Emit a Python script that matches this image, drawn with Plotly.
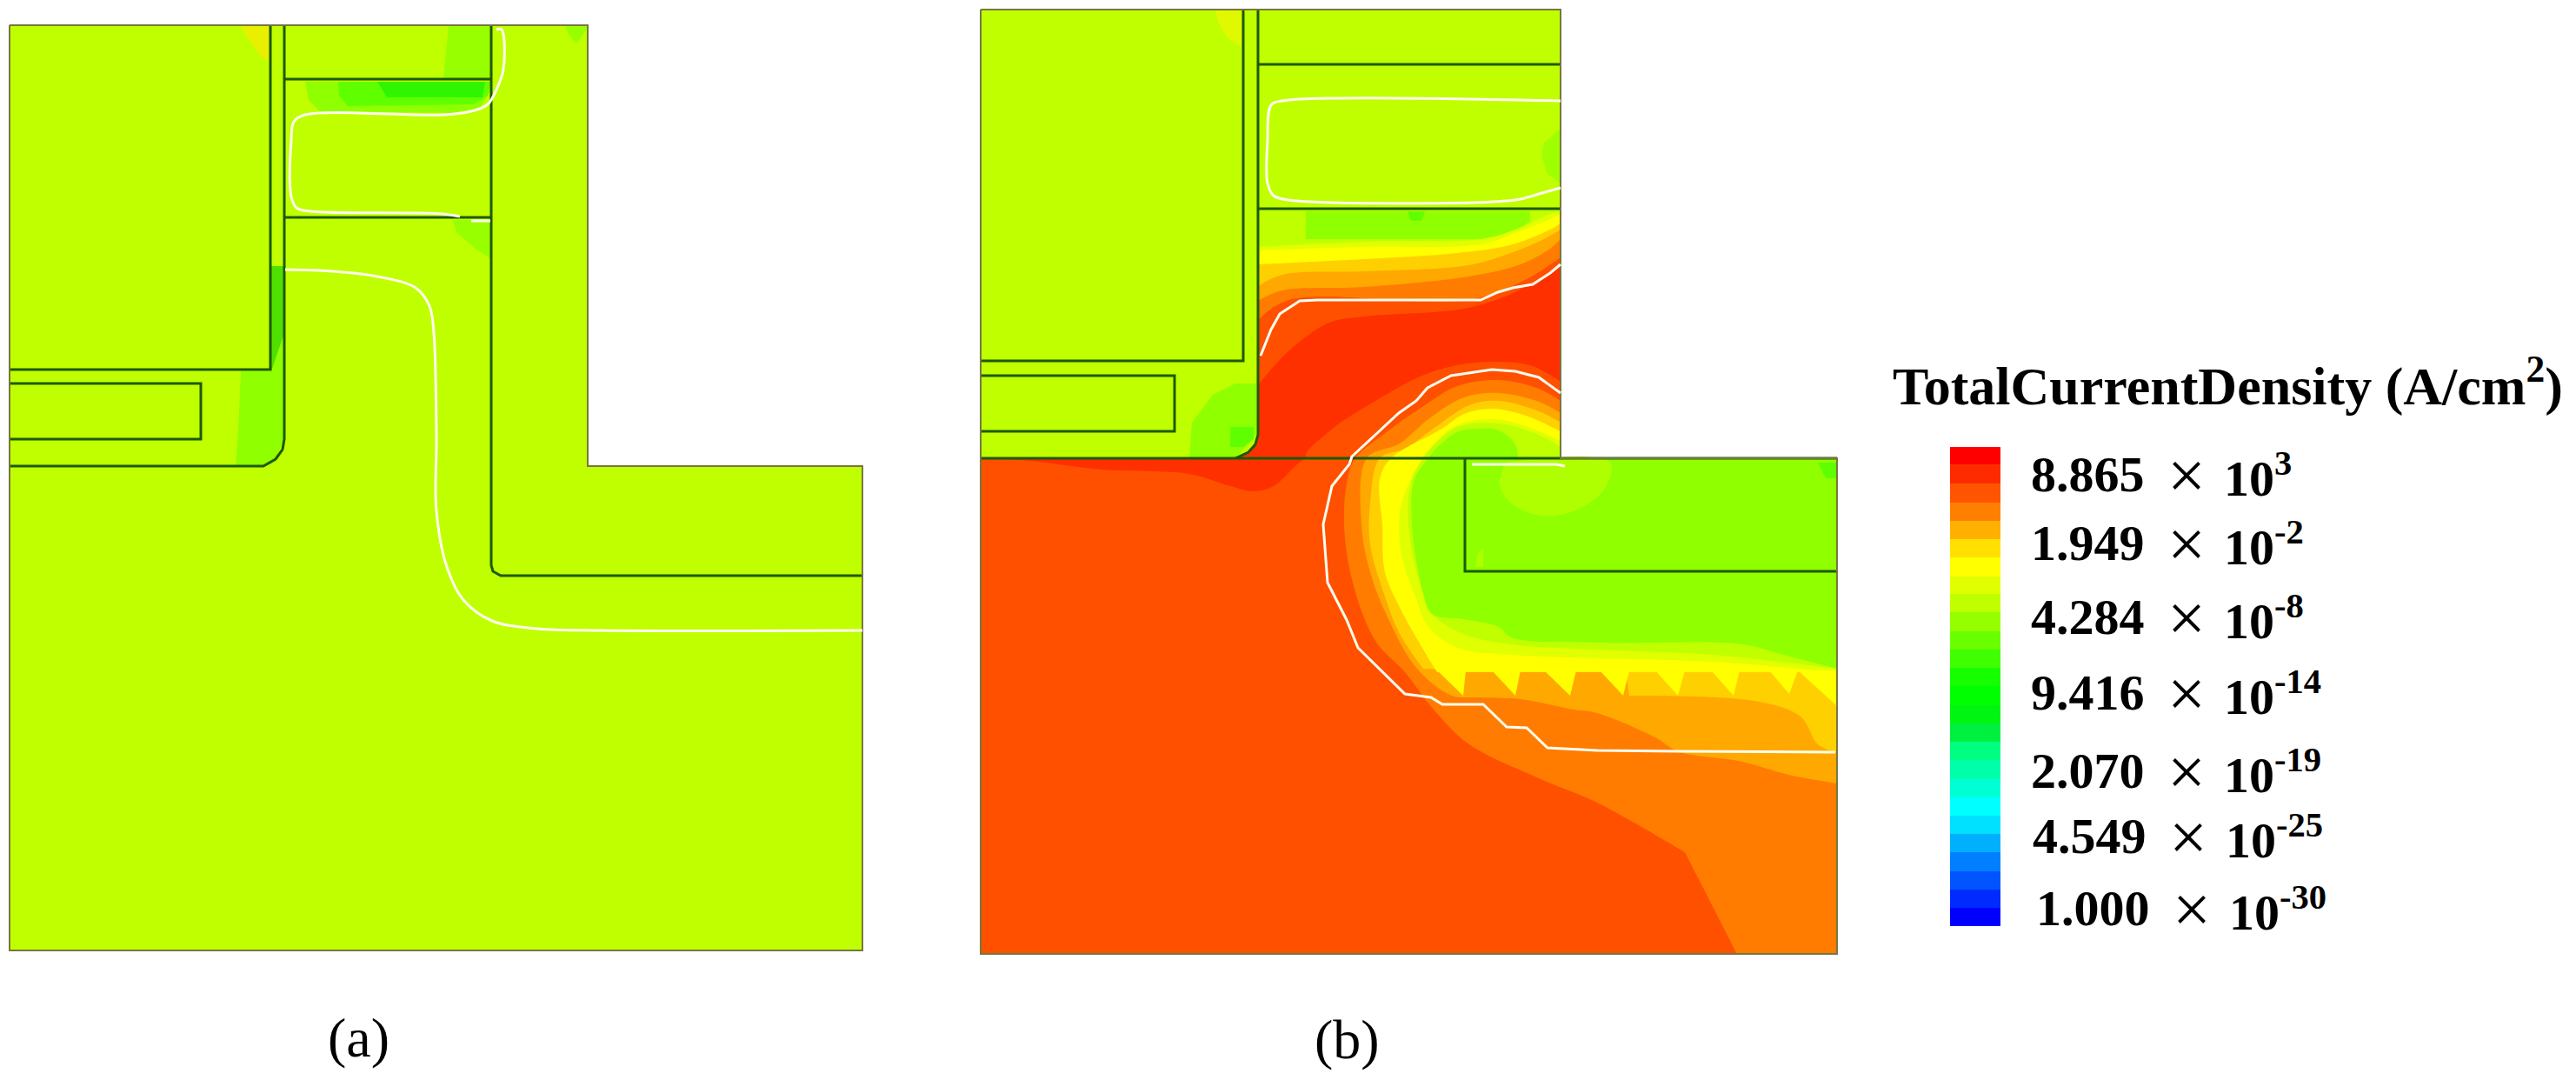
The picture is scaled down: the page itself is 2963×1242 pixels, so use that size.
import plotly.graph_objects as go

# Everything in its own pixel frame (x right, y down)
CHARTREUSE = '#C0FF00'

# --- panel (a) ---
a_outline = [(11, 29), (676, 29), (676, 536), (992, 536), (992, 1093), (11, 1093), (11, 29)]
a_top_green = [(516, 29), (564, 29), (564, 90), (510, 90), (513, 60)]
a_under_light = [(351, 94), (564, 94), (564, 105), (552, 124), (520, 130), (368, 128), (355, 115)]
a_under_mid = [(389, 94), (564, 94), (561, 110), (545, 120), (400, 122), (390, 110)]
a_under_deep = [(434, 94), (558, 94), (555, 112), (445, 112)]
a_gate_green = [(520, 253), (564, 253), (564, 297), (548, 287), (526, 268)]
a_corner_green = [(650, 29), (675, 29), (675, 34), (663, 50), (654, 40)]
a_top_yellow = [(277, 29), (311, 29), (311, 73), (300, 65), (284, 42)]
a_strip_green = [(311, 306), (327, 306), (327, 425), (311, 425)]
a_low_green = [(277, 427), (312, 427), (327, 383), (327, 505), (317, 528), (300, 536), (271, 536), (274, 497)]
a_line_1 = [(311, 29), (311, 425), (11, 425)]
a_line_2 = [(327, 29), (327, 505), (325, 517), (317, 528), (303, 536), (11, 536)]
a_line_3 = [(11, 441), (231, 441), (231, 505), (11, 505)]
a_line_4 = [(565, 29), (565, 650), (567, 657), (576, 662), (992, 662)]
a_line_5 = [(327, 91), (565, 91)]
a_line_6 = [(327, 250), (565, 250)]
a_white_1 = [(571, 34), (577, 34), (579, 80), (571, 103), (561, 120), (542, 128), (510, 132), (351, 132),
             (338, 140), (335, 161), (335, 226), (341, 239), (357, 243), (510, 246), (529, 249)]
a_white_2 = [(542, 254), (564, 254)]
a_white_3 = [(328, 310), (383, 312), (434, 318), (478, 331), (494, 352), (499, 383), (502, 500), (502, 588),
             (514, 652), (533, 690), (566, 714), (618, 723), (690, 725), (992, 725)]

# --- panel (b) ---
b_outline = [(1128, 11), (1795, 11), (1795, 527), (2113, 527), (2113, 1097), (1128, 1097), (1128, 11)]
b_lower_box = [(1128, 527), (2113, 527), (2113, 1097), (1128, 1097)]
b_top_yellow = [(1398, 11), (1428, 11), (1428, 54), (1411, 43), (1401, 25)]
b_edge_green = [(1795, 148), (1776, 164), (1773, 179), (1780, 200), (1795, 211)]
b_low_green = [(1368, 527), (1371, 486), (1395, 454), (1421, 441), (1445, 441), (1445, 500), (1421, 527)]
b_low_deep = [(1415, 514), (1415, 491), (1442, 491), (1442, 505), (1430, 514)]
b_gate_green = [(1502, 243), (1760, 243), (1760, 254), (1733, 275), (1502, 275)]
b_gate_spot = [(1619, 243), (1639, 243), (1635, 254), (1623, 254)]

# upper channel bands, top edge of each, left to right
up_e0 = [(1447, 284), (1569, 278), (1703, 275), (1743, 264), (1783, 246), (1795, 243)]
up_ff = [(1447, 288), (1569, 284), (1703, 281), (1743, 268), (1783, 252), (1795, 246)]
up_fd = [(1447, 304), (1569, 298), (1676, 291), (1736, 282), (1783, 264), (1795, 257)]
up_a8 = [(1447, 329), (1475, 316), (1569, 312), (1689, 305), (1743, 289), (1776, 275), (1795, 264)]
up_7c = [(1447, 346), (1475, 334), (1569, 330), (1689, 318), (1749, 304), (1783, 286), (1795, 275)]
up_50 = [(1447, 368), (1482, 345), (1689, 345), (1756, 321), (1795, 296)]
up_30 = [(1447, 443), (1482, 404), (1529, 371), (1569, 364), (1683, 355), (1736, 339), (1776, 318), (1795, 307)]
# corners listed twice stay sharp under the spline
up_close = [(1795, 527), (1795, 527), (1423, 527), (1423, 527), (1436, 520), (1444, 511), (1447, 500), (1447, 500)]

red_patch = [(1150, 527), (1187, 530), (1267, 540), (1368, 545), (1415, 559), (1442, 565), (1465, 559),
             (1492, 534), (1502, 527)]

# nested C-shaped bands around the drain, outer to inner
arch_50 = [(1795, 439), (1763, 421), (1723, 416), (1676, 420), (1636, 432), (1582, 461), (1529, 496), (1502, 527)]
arch_7c = [(1795, 461), (1770, 447), (1724, 437), (1676, 444), (1636, 468), (1596, 496), (1559, 527), (1550, 551),
           (1546, 603), (1556, 670), (1582, 737), (1616, 773), (1649, 816), (1690, 856), (1770, 895), (1837, 923),
           (1938, 980), (1938, 980), (1998, 1097), (1998, 1097), (2113, 1097), (2113, 1097)]
arch_a8 = [(1795, 475), (1770, 462), (1724, 452), (1684, 457), (1643, 482), (1610, 510), (1572, 527), (1566, 603),
           (1576, 658), (1596, 710), (1630, 769), (1670, 800), (1696, 802), (1749, 804), (1810, 816), (1837, 820),
           (1904, 848), (1930, 864), (2004, 876), (2057, 891), (2113, 901)]
arch_d0 = [(1795, 486), (1770, 473), (1724, 461), (1690, 466), (1650, 492), (1616, 516), (1587, 527), (1576, 579),
           (1576, 626), (1593, 686), (1610, 729), (1637, 769), (1637, 769), (1686, 771), (1686, 771), (1870, 771),
           (1870, 771), (1874, 800), (1874, 800), (2018, 806), (2071, 824), (2091, 856), (2113, 866)]
arch_ff = [(1795, 496), (1770, 484), (1749, 476), (1716, 470), (1684, 476), (1657, 494), (1600, 527), (1587, 551),
           (1590, 603), (1593, 658), (1616, 710), (1653, 773), (1653, 773), (2113, 773), (2113, 773)]
teeth_ff = [(1653, 771), (1683, 800), (1686, 771), (1716, 771), (1743, 800), (1749, 771), (1776, 771), (1806, 800),
            (1813, 771), (1840, 771), (1867, 800), (1874, 771), (1904, 771), (1930, 800), (1938, 771), (1968, 771),
            (1994, 800), (2001, 771), (2035, 771), (2058, 798), (2068, 771), (2113, 812), (2113, 771)]
arch_e0 = [(1795, 507), (1749, 488), (1716, 482), (1676, 489), (1650, 510), (1637, 527), (1612, 579), (1612, 638),
           (1628, 686), (1643, 721), (1677, 745), (1738, 753), (1837, 757), (1970, 761), (2113, 773)]
arch_c0 = [(1795, 514), (1770, 500), (1724, 487), (1676, 491), (1647, 514), (1637, 527), (1624, 551), (1620, 603),
           (1634, 674), (1647, 706), (1683, 729), (1738, 741), (1837, 747), (1970, 753), (2113, 769)]
arch_90 = [(1746, 527), (1743, 511), (1724, 495), (1704, 493), (1676, 497), (1650, 518), (1643, 527), (1627, 551),
           (1624, 603), (1637, 682), (1647, 706), (1683, 712), (1724, 721), (1738, 733), (1837, 739), (2004, 741),
           (2051, 753), (2113, 769), (2113, 769), (2113, 527), (2113, 527)]
drain_blob = [(1731, 532), (1852, 532), (1845, 563), (1812, 587), (1771, 593), (1734, 575), (1724, 555)]
drain_corner = [(2091, 532), (2113, 532), (2113, 550), (2100, 550)]
drain_sliver = [(1697, 652), (1700, 636), (1706, 630), (1706, 652)]

b_line_1 = [(1430, 11), (1430, 415), (1128, 415)]
b_line_2 = [(1447, 11), (1447, 500), (1444, 511), (1436, 520), (1421, 527)]
b_line_3 = [(1128, 527), (2113, 527)]
b_line_4 = [(1128, 432), (1351, 432), (1351, 496), (1128, 496)]
b_line_5 = [(1447, 74), (1795, 74)]
b_line_6 = [(1447, 240), (1795, 240)]
b_line_7 = [(1685, 527), (1685, 657), (2113, 657)]
b_white_1 = [(1795, 116), (1475, 116), (1462, 121), (1458, 161), (1458, 211), (1465, 225), (1482, 230), (1743, 230),
             (1770, 223), (1795, 216)]
b_white_2 = [(1450, 409), (1462, 379), (1472, 361), (1495, 346), (1515, 345), (1703, 345), (1723, 336), (1740, 331),
             (1763, 327), (1783, 314), (1795, 304)]
b_white_3 = [(1795, 452), (1770, 434), (1743, 427), (1716, 425), (1669, 432), (1642, 446), (1629, 461), (1609, 475),
             (1582, 500), (1555, 525), (1552, 534), (1532, 559), (1522, 603), (1527, 670), (1549, 713), (1562, 745),
             (1616, 798), (1646, 802), (1659, 810), (1706, 810), (1733, 836), (1756, 837), (1780, 860), (1837, 863),
             (1930, 864), (2111, 865)]
b_white_4 = [(1693, 534), (1790, 534), (1800, 536)]

# --- colour legend ---
band_edges = [514, 534, 556, 578, 599, 620, 641, 663, 683, 704, 726, 747, 768, 789, 811, 832, 853, 874, 896, 917,
              938, 959, 980, 1002, 1023, 1044, 1065]
band_colors = ['#FF0000', '#FF2B00', '#FF5500', '#FF8000', '#FFB000', '#FFE000', '#FFFF00', '#E0FF00', '#C0FF00',
               '#95FF00', '#6AFF00', '#40FF00', '#15FF00', '#00FF00', '#00F510', '#00F040', '#00FF80', '#00FFAA',
               '#00FFD5', '#00FFFF', '#00E0FF', '#00B0FF', '#0080FF', '#0055FF', '#002BFF', '#0000FF']
mantissas = ['8.865', '1.949', '4.284', '9.416', '2.070', '4.549', '1.000']
exponents = ['3', '-2', '-8', '-14', '-19', '-25', '-30']
label_baselines = [566, 645, 730, 817, 907, 982, 1065]
label_lefts = [2337, 2337, 2337, 2337, 2337, 2339, 2343]


def add_region(fig, points, color, smooth=False):
    fig.add_trace(go.Scatter(
        x=[p[0] for p in points], y=[p[1] for p in points],
        mode='lines', fill='toself', fillcolor=color,
        line=dict(width=0, color=color, shape='spline' if smooth else 'linear', simplify=False),
        hoverinfo='skip', showlegend=False,
    ))


def add_path(fig, points, color, width, smooth=False):
    fig.add_trace(go.Scatter(
        x=[p[0] for p in points], y=[p[1] for p in points],
        mode='lines', line=dict(color=color, width=width, shape='spline' if smooth else 'linear'),
        hoverinfo='skip', showlegend=False,
    ))


fig = go.Figure()

# Legend bar
fig.add_trace(go.Heatmap(
    x=[2243, 2301], y=band_edges,
    z=[[i] for i in range(len(band_colors))],
    zmin=0, zmax=len(band_colors) - 1,
    colorscale=[[i / (len(band_colors) - 1), c] for i, c in enumerate(band_colors)],
    showscale=False, hoverinfo='skip',
))

# Panel (a) fields
add_region(fig, a_outline, CHARTREUSE)
for pts, col in [(a_top_green, '#98FF00'), (a_under_light, '#90FF00'), (a_under_mid, '#60FF00'),
                 (a_under_deep, '#30F500'), (a_gate_green, '#98FF00'), (a_corner_green, '#98FF00'),
                 (a_top_yellow, '#E8F000'), (a_strip_green, '#50E000'), (a_low_green, '#90FF00')]:
    add_region(fig, pts, col)

# Panel (b) fields
add_region(fig, b_outline, CHARTREUSE)
for pts, col in [(b_top_yellow, '#E0F800'), (b_edge_green, '#A0FF00'), (b_low_green, '#90FF00'),
                 (b_low_deep, '#60FF00'), (b_gate_green, '#90FF00'), (b_gate_spot, '#60FF00')]:
    add_region(fig, pts, col)
for pts, col in [(up_e0, '#E0FF00'), (up_ff, '#FFFF00'), (up_fd, '#FFD000'), (up_a8, '#FFA800'),
                 (up_7c, '#FF7C00'), (up_50, '#FF5000'), (up_30, '#FF3000')]:
    add_region(fig, pts + [pts[-1]] + up_close, col, smooth=True)
add_region(fig, b_lower_box, '#FF5000')
add_region(fig, red_patch, '#FF3000', smooth=True)

# Closing corner of each C-band: back along the drain's top edge
arch_close = [(2113, 527), (2113, 527), (1795, 527), (1795, 527)]
add_region(fig, [arch_50[0]] + arch_50 + arch_close, '#FF5000', smooth=True)
for pts, col in [(arch_7c, '#FF7C00'), (arch_a8, '#FFA800'), (arch_d0, '#FFD000'), (arch_ff, '#FFFF00'),
                 (arch_e0, '#E0FF00'), (arch_c0, CHARTREUSE)]:
    add_region(fig, [pts[0]] + pts + [pts[-1]] + arch_close, col, smooth=True)
add_region(fig, teeth_ff, '#FFFF00')
add_region(fig, arch_90, '#90FF00', smooth=True)
add_region(fig, drain_blob, '#B0FF00', smooth=True)
add_region(fig, drain_corner, '#60FF00')
add_region(fig, drain_sliver, '#B0FF00')

# Junction / oxide outlines
for pts in [a_line_1, a_line_2, a_line_3, a_line_4, a_line_5, a_line_6,
            b_line_1, b_line_2, b_line_3, b_line_4, b_line_5, b_line_6, b_line_7]:
    add_path(fig, pts, '#1C5A00', 3)
add_path(fig, a_outline, '#77773F', 2)
add_path(fig, b_outline, '#77773F', 2)

# Depletion boundaries
for pts in [a_white_1, a_white_3, b_white_1]:
    add_path(fig, pts, '#FFFFF0', 3, smooth=True)
for pts in [a_white_2, b_white_2, b_white_3, b_white_4]:
    add_path(fig, pts, '#FFFFF0', 3)

# Texts
FONT = 'Liberation Serif'
annotations = [
    dict(x=2175, y=439, text='<b>TotalCurrentDensity (A/cm<sup>2</sup>)</b>', font=dict(size=62)),
    dict(x=375, y=1193, text='(a)', font=dict(size=64)),
    dict(x=1510, y=1195, text='(b)', font=dict(size=64)),
]
for mant, exp, base, left in zip(mantissas, exponents, label_baselines, label_lefts):
    annotations.append(dict(x=left - 3, y=base - 21, text=f'<b>{mant}</b>', font=dict(size=58)))
    annotations.append(dict(x=left + 154, y=base - 20, text='×', font=dict(size=78)))
    annotations.append(dict(x=left + 219, y=base - 20, text=f'<b>10<sup>{exp}</sup></b>', font=dict(size=58)))
for ann in annotations:
    ann.update(xref='x', yref='y', xanchor='left', yanchor='middle', showarrow=False, align='left')
    ann['font'].update(family=FONT, color='black')

fig.update_layout(
    width=2963, height=1242,
    margin=dict(l=0, r=0, t=0, b=0),
    paper_bgcolor='white', plot_bgcolor='white',
    xaxis=dict(range=[0, 2963], visible=False, fixedrange=True),
    yaxis=dict(range=[1242, 0], visible=False, fixedrange=True),
    annotations=annotations, showlegend=False,
)

fig.write_html("out.html", post_script="document.body.style.margin='0';", config={'displayModeBar': False})
